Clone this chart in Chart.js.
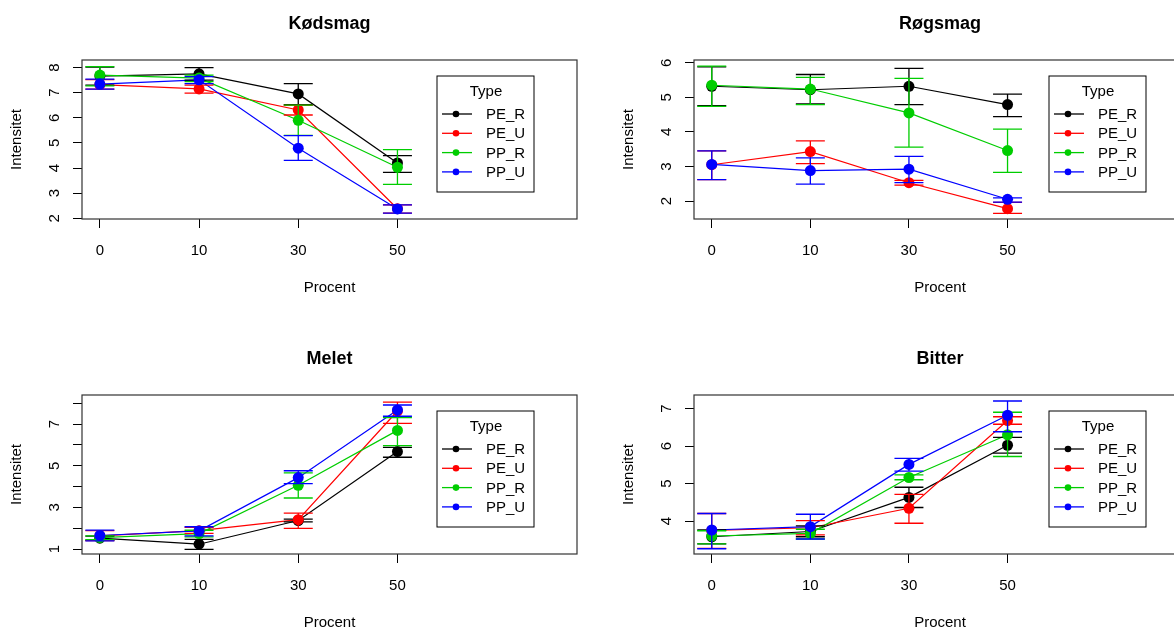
<!DOCTYPE html>
<html>
<head>
<meta charset="utf-8">
<script src="https://cdn.jsdelivr.net/npm/chart.js@4.4.1/dist/chart.umd.min.js"></script>
<style>
  html, body { margin: 0; padding: 0; background: #fff; overflow: hidden; width: 1174px; height: 632px; }
  canvas { position: absolute; left: 0; top: 0; }
</style>
</head>
<body>
<canvas id="c1" width="1200" height="632"></canvas>
<canvas id="c2" width="1200" height="632"></canvas>
<canvas id="c3" width="1200" height="632"></canvas>
<canvas id="c4" width="1200" height="632"></canvas>
<script>
// categories (x positions 1..4) and types
const procent = ['0', '10', '30', '50'];
const types = ['PE_R', 'PE_U', 'PP_R', 'PP_U'];
const typeColors = ['#000000', '#FF0000', '#00CD00', '#0000FF'];

// Kødsmag: rows = PE_R, PE_U, PP_R, PP_U
const kodsmagMean = [[7.66, 7.75, 6.95, 4.20], [7.32, 7.15, 6.31, 2.38], [7.70, 7.58, 5.90, 4.03], [7.34, 7.51, 4.79, 2.37]];
const kodsmagLow  = [[7.30, 7.50, 6.52, 3.83], [7.14, 6.98, 6.11, 2.20], [7.27, 7.44, 5.30, 3.35], [7.14, 7.36, 4.30, 2.20]];
const kodsmagHigh = [[8.02, 8.00, 7.36, 4.49], [7.52, 7.30, 6.49, 2.53], [8.04, 7.70, 6.50, 4.73], [7.54, 7.64, 5.29, 2.53]];
const kodsmagTicks = [2, 3, 4, 5, 6, 7, 8];
const kodsmagTickLabels = ['2', '3', '4', '5', '6', '7', '8'];

// Røgsmag
const rogsmagMean = [[5.32, 5.22, 5.32, 4.79], [3.05, 3.43, 2.53, 1.78], [5.35, 5.24, 4.55, 3.46], [3.06, 2.88, 2.92, 2.05]];
const rogsmagLow  = [[4.76, 4.81, 4.79, 4.44], [2.62, 3.08, 2.46, 1.64], [4.74, 4.79, 3.56, 2.83], [2.62, 2.49, 2.53, 1.97]];
const rogsmagHigh = [[5.88, 5.66, 5.84, 5.09], [3.45, 3.74, 2.60, 1.96], [5.90, 5.58, 5.55, 4.08], [3.45, 3.25, 3.29, 2.09]];
const rogsmagTicks = [2, 3, 4, 5, 6];
const rogsmagTickLabels = ['2', '3', '4', '5', '6'];

// Melet
const meletMean = [[1.52, 1.23, 2.37, 5.68], [1.63, 1.88, 2.41, 7.63], [1.55, 1.74, 4.06, 6.70], [1.65, 1.87, 4.43, 7.68]];
const meletLow  = [[1.42, 0.98, 2.30, 5.41], [1.40, 1.75, 1.99, 7.04], [1.45, 1.58, 3.45, 5.97], [1.39, 1.63, 4.14, 7.38]];
const meletHigh = [[1.62, 1.46, 2.44, 5.88], [1.88, 2.04, 2.72, 8.06], [1.63, 1.90, 4.66, 7.32], [1.91, 2.07, 4.76, 7.92]];
const meletTicks = [1, 2, 3, 4, 5, 6, 7, 8];
const meletTickLabels = ['1', '', '3', '', '5', '', '7', ''];

// Bitter
const bitterMean = [[3.58, 3.72, 4.63, 6.02], [3.75, 3.82, 4.34, 6.68], [3.60, 3.67, 5.16, 6.30], [3.76, 3.85, 5.51, 6.82]];
const bitterLow  = [[3.39, 3.58, 4.36, 5.81], [3.27, 3.63, 3.94, 6.58], [3.39, 3.52, 5.10, 5.72], [3.26, 3.52, 5.33, 6.38]];
const bitterHigh = [[3.76, 3.87, 4.90, 6.23], [4.20, 4.01, 4.71, 6.78], [3.74, 3.78, 5.23, 6.90], [4.20, 4.18, 5.67, 7.20]];
const bitterTicks = [4, 5, 6, 7];
const bitterTickLabels = ['4', '5', '6', '7'];

const FONT = "'Liberation Sans', Arial, sans-serif";
const W = 1200, H = 632;

// draws mean +/- error bars of a point dataset just before the points
const errorBars = {
    id: 'errorBars',
    beforeDatasetDraw(chart, args) {
        const ds = chart.data.datasets[args.index];
        if (!ds.errLow) return;
        const ctx = chart.ctx;
        const xs = chart.scales.x, ys = chart.scales.y;
        ctx.save();
        ctx.strokeStyle = ds.pointBackgroundColor;
        ctx.lineWidth = 1.3;
        ds.data.forEach((p, j) => {
            const x = xs.getPixelForValue(p.x);
            const yl = ys.getPixelForValue(ds.errLow[j]);
            const yh = ys.getPixelForValue(ds.errHigh[j]);
            ctx.beginPath();
            ctx.moveTo(x, yl); ctx.lineTo(x, yh);
            ctx.moveTo(x - 14.5, yl); ctx.lineTo(x + 14.5, yl);
            ctx.moveTo(x - 14.5, yh); ctx.lineTo(x + 14.5, yh);
            ctx.stroke();
        });
        ctx.restore();
    }
};

// box, titles, tick labels and legend in R style
const decor = {
    id: 'decor',
    afterDraw(chart) {
        const o = chart.options.plugins.decor;
        const ctx = chart.ctx;
        const a = chart.chartArea;
        const xs = chart.scales.x, ys = chart.scales.y;
        ctx.save();
        ctx.strokeStyle = '#333';
        ctx.lineWidth = 1.2;
        ctx.strokeRect(a.left, a.top, a.right - a.left, a.bottom - a.top);

        ctx.fillStyle = '#000';
        ctx.textAlign = 'center';
        ctx.textBaseline = 'middle';
        const cx = (a.left + a.right) / 2;
        ctx.font = 'bold 18px ' + FONT;
        ctx.fillText(o.title, cx, a.top - 36);

        ctx.font = '15px ' + FONT;
        procent.forEach((lab, j) => {
            ctx.fillText(lab, xs.getPixelForValue(j + 1), a.bottom + 32);
        });
        ctx.fillText('Procent', cx, a.bottom + 69);

        o.tickLabels.forEach((lab, k) => {
            if (!lab) return;
            ctx.save();
            ctx.translate(a.left - 27, ys.getPixelForValue(o.ticks[k]));
            ctx.rotate(-Math.PI / 2);
            ctx.fillText(lab, 0, 0);
            ctx.restore();
        });
        ctx.save();
        ctx.translate(a.left - 65, (a.top + a.bottom) / 2);
        ctx.rotate(-Math.PI / 2);
        ctx.fillText('Intensitet', 0, 0);
        ctx.restore();

        // legend
        const lx = a.left + 355, ly = a.top + 16;
        ctx.strokeStyle = '#000';
        ctx.lineWidth = 1;
        ctx.strokeRect(lx, ly, 97, 116);
        ctx.fillText('Type', lx + 49, ly + 16);
        ctx.textAlign = 'left';
        types.forEach((t, i) => {
            const yy = ly + 38 + i * 19.3;
            ctx.strokeStyle = typeColors[i];
            ctx.lineWidth = 1.3;
            ctx.beginPath();
            ctx.moveTo(lx + 5, yy); ctx.lineTo(lx + 35, yy);
            ctx.stroke();
            ctx.fillStyle = typeColors[i];
            ctx.beginPath();
            ctx.arc(lx + 19, yy, 3.3, 0, Math.PI * 2);
            ctx.fill();
            ctx.fillStyle = '#000';
            ctx.fillText(t, lx + 49, yy + 1);
        });
        ctx.restore();
    }
};

function makeChart(id, title, means, lows, highs, yRange, ticks, tickLabels, box) {
    const datasets = [];
    types.forEach((t, i) => {
        const pts = means[i].map((v, j) => ({ x: j + 1, y: v }));
        datasets.push({
            label: t,
            data: pts,
            borderColor: typeColors[i],
            borderWidth: 1.2,
            pointRadius: 0,
            fill: false,
            tension: 0,
            order: 104 - i
        });
        datasets.push({
            label: t + ' mean',
            data: pts,
            showLine: false,
            pointRadius: 5.5,
            pointBorderWidth: 0,
            pointBackgroundColor: typeColors[i],
            pointBorderColor: typeColors[i],
            errLow: lows[i],
            errHigh: highs[i],
            order: 10 - i
        });
    });

    return new Chart(document.getElementById(id), {
        type: 'line',
        data: { datasets: datasets },
        options: {
            responsive: false,
            animation: false,
            events: [],
            layout: { padding: { left: 0, top: box.t, right: W - box.r, bottom: 0 } },
            scales: {
                x: {
                    type: 'linear',
                    min: 0.82,
                    max: 5.81,
                    afterBuildTicks: s => { s.ticks = [1, 2, 3, 4].map(v => ({ value: v })); },
                    afterFit: s => { s.height = H - box.b; },
                    ticks: { display: false },
                    border: { display: false },
                    grid: { drawOnChartArea: false, drawTicks: true, tickLength: 9, color: '#000', lineWidth: 1 }
                },
                y: {
                    type: 'linear',
                    min: yRange[0],
                    max: yRange[1],
                    afterBuildTicks: s => { s.ticks = ticks.map(v => ({ value: v })); },
                    afterFit: s => { s.width = box.l; },
                    ticks: { display: false },
                    border: { display: false },
                    grid: { drawOnChartArea: false, drawTicks: true, tickLength: 9, color: '#000', lineWidth: 1 }
                }
            },
            plugins: {
                legend: { display: false },
                tooltip: { enabled: false },
                decor: { title: title, ticks: ticks, tickLabels: tickLabels }
            }
        },
        plugins: [errorBars, decor]
    });
}

makeChart('c1', 'Kødsmag', kodsmagMean, kodsmagLow, kodsmagHigh, [1.97, 8.30], kodsmagTicks, kodsmagTickLabels,
    { l: 82, r: 577, t: 60, b: 219 });
makeChart('c2', 'Røgsmag', rogsmagMean, rogsmagLow, rogsmagHigh, [1.48, 6.08], rogsmagTicks, rogsmagTickLabels,
    { l: 694, r: 1186, t: 60, b: 219 });
makeChart('c3', 'Melet', meletMean, meletLow, meletHigh, [0.76, 8.40], meletTicks, meletTickLabels,
    { l: 82, r: 577, t: 395, b: 554 });
makeChart('c4', 'Bitter', bitterMean, bitterLow, bitterHigh, [3.12, 7.36], bitterTicks, bitterTickLabels,
    { l: 694, r: 1186, t: 395, b: 554 });
</script>
</body>
</html>
